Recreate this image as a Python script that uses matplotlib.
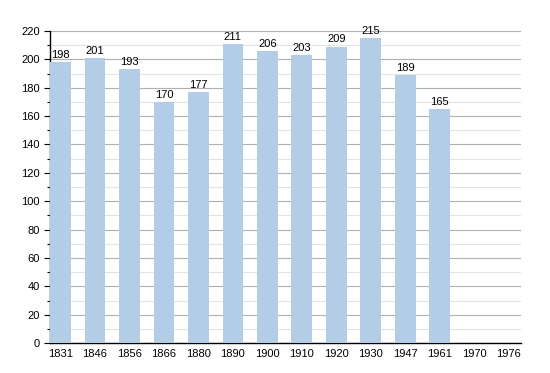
import matplotlib
matplotlib.use('Agg')
import matplotlib.pyplot as plt
from matplotlib.ticker import MultipleLocator

plt.rcParams['font.family'] = ['Liberation Sans', 'DejaVu Sans']

years = ['1831', '1846', '1856', '1866', '1880', '1890', '1900', '1910', '1920', '1930', '1947', '1961', '1970', '1976']
population = [198, 201, 193, 170, 177, 211, 206, 203, 209, 215, 189, 165, None, None]

fig = plt.figure(figsize=(5.5, 3.73), dpi=100)
ax = fig.add_axes([0.091, 0.080, 0.856, 0.837])

x = list(range(len(years)))
vals = [v if v is not None else 0 for v in population]
bars = ax.bar(x, vals, width=0.6, color='#b3cde6', zorder=3)
for xi, v in zip(x, population):
    if v is not None:
        ax.text(xi, v + 1.5, str(v), ha='center', va='bottom', fontsize=8, zorder=4)

ax.set_xlim(-0.3, 13.35)
ax.set_ylim(0, 220)
ax.set_xticks(x)
ax.set_xticklabels(years, fontsize=8)
ax.yaxis.set_major_locator(MultipleLocator(20))
ax.yaxis.set_minor_locator(MultipleLocator(10))
ax.tick_params(axis='y', labelsize=8, length=4, width=0.8)
ax.tick_params(axis='y', which='minor', length=2.5, width=0.8)
ax.tick_params(axis='x', length=0, pad=4)
ax.grid(axis='y', which='major', color='#b0b0b0', linewidth=0.8, zorder=0)
ax.grid(axis='y', which='minor', color='#e3e3e3', linewidth=0.8, zorder=0)
for s in ['top', 'right']:
    ax.spines[s].set_visible(False)
ax.spines['left'].set_linewidth(1)
ax.spines['bottom'].set_linewidth(1)

fig.savefig('out.png', dpi=100)
